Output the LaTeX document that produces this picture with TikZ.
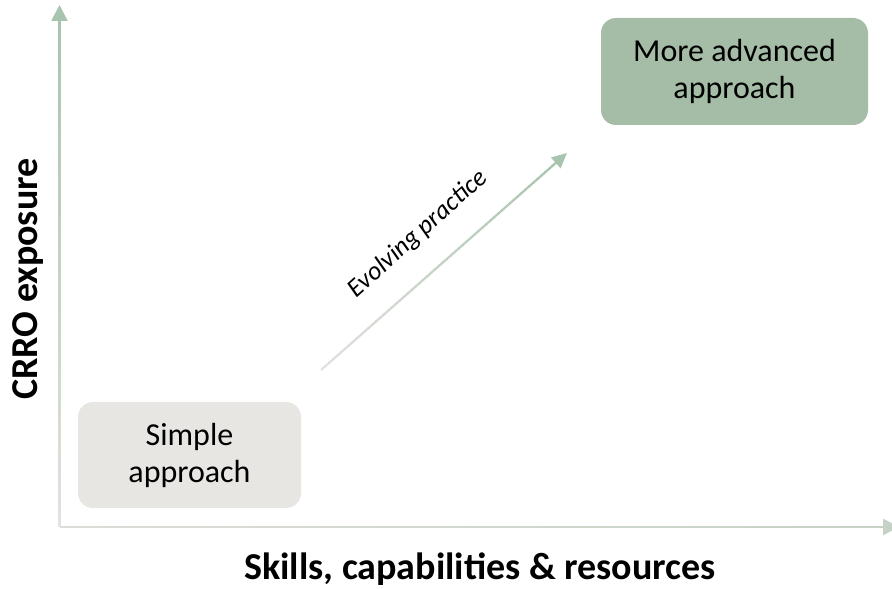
\documentclass[tikz,border=0pt]{standalone}
\usepackage{fontspec}
\setmainfont{Carlito}
\usetikzlibrary{arrows.meta,calc}
\definecolor{axgreen}{HTML}{A9C4AE}
\definecolor{axgray}{HTML}{E2E2DE}
\definecolor{hgreen}{HTML}{C6D2C6}
\definecolor{hgray}{HTML}{DCDDD8}
\definecolor{boxgreen}{HTML}{A5BDA6}
\definecolor{boxgray}{HTML}{E7E6E2}
\newcommand\gradseg[5]{%
  \foreach \i in {1,...,60}{%
    \pgfmathsetmacro\ta{(\i-1)/60}%
    \pgfmathsetmacro\tb{min(1,\i/60+0.004)}%
    \pgfmathsetmacro\pc{100*(\i-0.5)/60}%
    \draw[line width=#5, draw=#4!\pc!#3] ($(#1)!\ta!(#2)$) -- ($(#1)!\tb!(#2)$);
  }}
\tikzset{
  approachbox/.style={rounded corners=15pt, align=center, inner sep=0pt,
    font=\fontsize{32}{37}\selectfont},
  axislabel/.style={font=\fontsize{38}{44}\selectfont\bfseries},
  headtip/.style={-{Triangle[length=16pt,width=16pt]}},
}
\begin{document}
\begin{tikzpicture}[x=1pt,y=1pt]
\clip (0,0) rectangle (892,589);
\useasboundingbox (0,0) rectangle (892,589);
% axes
\coordinate (o) at (59.5,62);
\coordinate (ytip) at (59.5,584);
\coordinate (xtip) at (899,62);
\coordinate (yb) at ($(ytip)!15pt!(o)$);
\coordinate (xb) at ($(xtip)!15pt!(o)$);
\gradseg{o}{yb}{axgray}{axgreen}{2.6}
\draw[headtip, line width=2.6, axgreen] ($(yb)!-1pt!(o)$) -- (ytip);
\gradseg{o}{xb}{hgray}{hgreen}{2.6}
\draw[headtip, line width=2.6, hgreen] ($(xb)!-1pt!(o)$) -- (xtip);
% boxes
\node[approachbox, fill=boxgray, minimum width=223pt, minimum height=106pt]
  (simple) at (189.5,134) {Simple\\approach};
\node[approachbox, fill=boxgreen, minimum width=267pt, minimum height=107pt]
  (adv) at (734.5,517.5) {More advanced\\approach};
% evolving arrow
\coordinate (ds) at (321,219);
\coordinate (de) at (567,436);
\coordinate (db) at ($(de)!14pt!(ds)$);
\gradseg{ds}{db}{axgray}{axgreen}{2.2}
\draw[-{Triangle[length=15pt,width=14pt]}, line width=2.2, axgreen] ($(db)!-1pt!(ds)$) -- (de);
\node[rotate=42, font=\fontsize{26}{31}\selectfont\itshape] (evo) at (418,355) {Evolving practice};
% axis labels
\node[axislabel, rotate=90] (ylab) at (28,310) {CRRO exposure};
\node[axislabel, anchor=base] (xlab) at (480,9) {Skills, capabilities \& resources};
\end{tikzpicture}
\end{document}
